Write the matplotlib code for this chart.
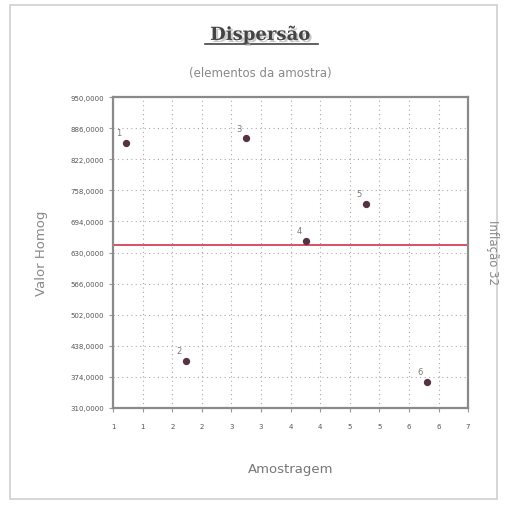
import matplotlib.pyplot as plt
import matplotlib.patheffects as pe
import numpy as np

# dados
amostras = ["1", "2", "3", "4", "5", "6"]
pos_x = [1.22, 2.23, 3.25, 4.26, 5.27, 6.30]
valores = [855, 407, 865, 654, 730, 363]
y_ticks = [310, 374, 438, 502, 566, 630, 694, 758, 822, 886, 950]
x_ticks = [1, 1.5, 2, 2.5, 3, 3.5, 4, 4.5, 5, 5.5, 6, 6.5, 7]
x_labels = ["1", "1", "2", "2", "3", "3", "4", "4", "5", "5", "6", "6", "7"]

media = np.mean(valores)

fig = plt.figure(figsize=(5.05, 5.06), dpi=100)
# moldura clara em volta da imagem
fig.patches.append(plt.Rectangle((0.02, 0.012), 0.965, 0.976, transform=fig.transFigure,
                                 fill=False, edgecolor='#d0d0d0', linewidth=1.2))

ax = fig.add_axes([0.224, 0.192, 0.703, 0.614])
ax.set_xlim(1, 7)
ax.set_ylim(310, 950)

ax.set_xticks(x_ticks)
ax.set_xticklabels(x_labels)
ax.set_yticks(y_ticks)
ax.set_yticklabels([f"{v},0000" for v in y_ticks])
ax.tick_params(axis='both', colors='#999999', labelcolor='#555555', labelsize=5, length=3)
ax.tick_params(axis='x', pad=8)

ax.grid(True, color='#aaaaaa', linestyle=(0, (1, 3)), linewidth=0.8)
ax.set_axisbelow(True)
for s in ax.spines.values():
    s.set_color('#8a8a8a')
    s.set_linewidth(1.6)

ax.axhline(media, color='#d85060', linewidth=1.4)
ax.scatter(pos_x, valores, s=18, color='#553344', zorder=3)
for nome, x, y in zip(amostras, pos_x, valores):
    ax.text(x - 0.12, y + 12, nome, fontsize=6, color='#777777', ha='center', va='bottom')

ax.set_xlabel("Amostragem", fontsize=9.5, color='#777777', labelpad=24)
ax.set_ylabel("Valor Homog", fontsize=9.5, color='#888888', labelpad=16)

fig.text(0.515, 0.93, "Dispersão", fontsize=13, fontweight='bold', family='DejaVu Serif',
         color='#444444', ha='center', va='center',
         path_effects=[pe.withSimplePatchShadow(offset=(1.5, -1.5), shadow_rgbFace='#bbbbbb', alpha=0.8)])
fig.add_artist(plt.Line2D([0.405, 0.63], [0.912, 0.912], transform=fig.transFigure,
                          color='#444444', linewidth=1.2))
fig.text(0.515, 0.855, "(elementos da amostra)", fontsize=8.5, color='#888888', ha='center', va='center')
fig.text(0.975, 0.50, "Inflação 32", fontsize=8.5, color='#888888', rotation=-90,
         ha='center', va='center')

fig.savefig("out.png", dpi=100)
